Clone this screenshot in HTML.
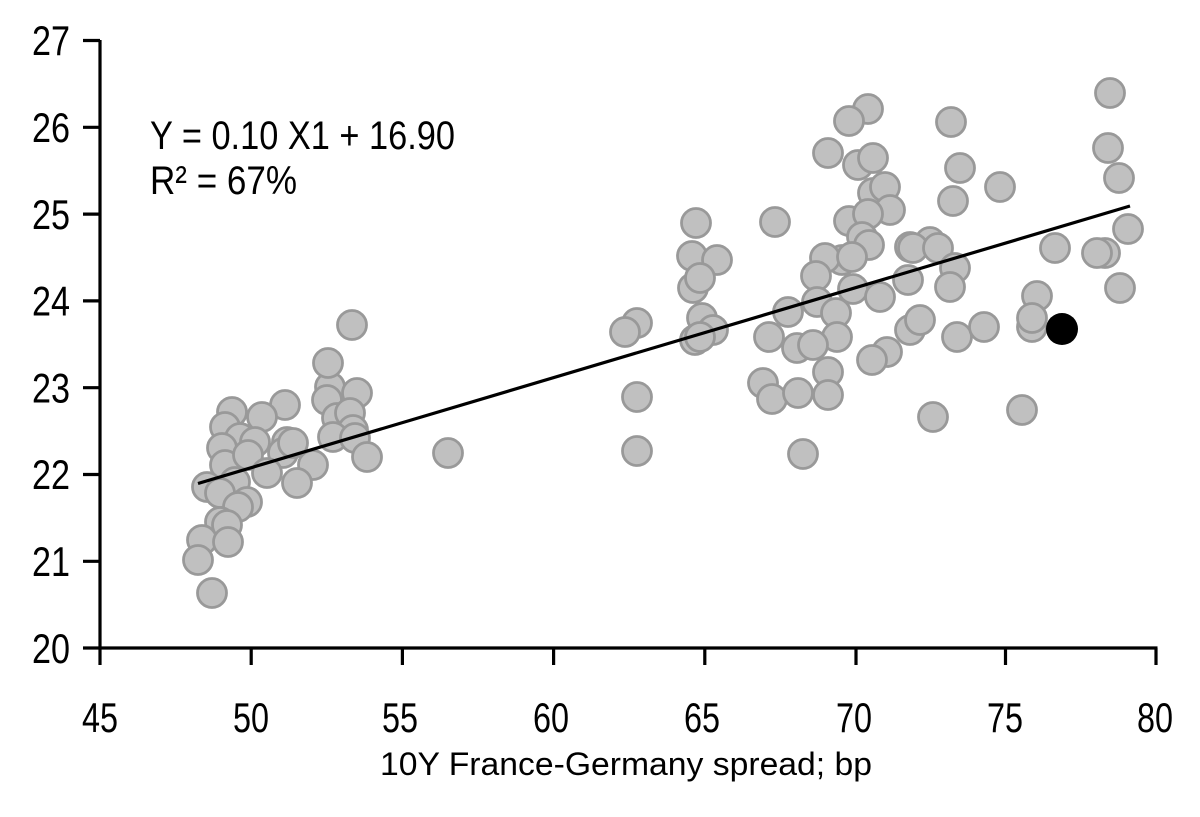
<!DOCTYPE html>
<html>
<head>
<meta charset="utf-8">
<style>
html,body{margin:0;padding:0;background:#fff;}
svg{display:block;}
text{font-family:"Liberation Sans",Arial,sans-serif;fill:#000;}
</style>
</head>
<body>
<svg id="chart" width="1200" height="817" viewBox="0 0 1200 817" xmlns="http://www.w3.org/2000/svg">
<rect width="1200" height="817" fill="#fff"/>
<path d="M100 40V665M98.5 648H1157.5M83 40.5H100M83 127.3H100M83 214.1H100M83 300.9H100M83 387.7H100M83 474.5H100M83 561.3H100M83 648H100M251.2 648V665M402.4 648V665M553.6 648V665M704.8 648V665M856 648V665M1005.5 648V665M1156 648V665" stroke="#000" stroke-width="3.2" fill="none"/>
<g font-size="42" text-anchor="end">
<text x="70" y="55" textLength="38" lengthAdjust="spacingAndGlyphs">27</text>
<text x="70" y="142" textLength="38" lengthAdjust="spacingAndGlyphs">26</text>
<text x="70" y="229" textLength="38" lengthAdjust="spacingAndGlyphs">25</text>
<text x="70" y="315.5" textLength="38" lengthAdjust="spacingAndGlyphs">24</text>
<text x="70" y="402.5" textLength="38" lengthAdjust="spacingAndGlyphs">23</text>
<text x="70" y="489" textLength="38" lengthAdjust="spacingAndGlyphs">22</text>
<text x="70" y="576" textLength="38" lengthAdjust="spacingAndGlyphs">21</text>
<text x="70" y="663" textLength="38" lengthAdjust="spacingAndGlyphs">20</text>
</g>
<g font-size="42">
<text x="82" y="732" textLength="36" lengthAdjust="spacingAndGlyphs">45</text>
<text x="233" y="732" textLength="36" lengthAdjust="spacingAndGlyphs">50</text>
<text x="382" y="732" textLength="36" lengthAdjust="spacingAndGlyphs">55</text>
<text x="533" y="732" textLength="36" lengthAdjust="spacingAndGlyphs">60</text>
<text x="684" y="732" textLength="36" lengthAdjust="spacingAndGlyphs">65</text>
<text x="836" y="732" textLength="36" lengthAdjust="spacingAndGlyphs">70</text>
<text x="987" y="732" textLength="36" lengthAdjust="spacingAndGlyphs">75</text>
<text x="1137" y="732" textLength="36" lengthAdjust="spacingAndGlyphs">80</text>
</g>
<text x="380" y="775" font-size="32" textLength="492" lengthAdjust="spacingAndGlyphs">10Y France-Germany spread; bp</text>
<text x="150" y="149" font-size="40" textLength="305" lengthAdjust="spacingAndGlyphs">Y = 0.10 X1 + 16.90</text>
<text x="150" y="194" font-size="40" textLength="147" lengthAdjust="spacingAndGlyphs">R² = 67%</text>
<g id="pts" fill="#c0c0c0" stroke="#999" stroke-width="2.8"></g>
<circle cx="1062" cy="329" r="16" fill="#000"/>
<line x1="198" y1="483.5" x2="1130" y2="206" stroke="#000" stroke-width="3.2"/>
</svg>
<script>
(function(){
var d=[285,405,232,412,262,417,225,427,240,438,255,442,222,448,287,442,225,465,248,455,283,453,267,473,313,465,297,483,207,487,235,482,220,493,247,502,238,507,220,522,227,525,202,540,228,542,198,560,212,593,293,443,330,387,357,393,352,325,328,363,327,400,337,418,350,413,353,430,333,437,355,438,367,457,448,453,
696,223,692,256,717,260,693,288,700,278,637,323,625,332,702,318,713,330,695,340,700,337,637,397,637,451,
868,109,849,121,828,153,858,165,873,158,873,193,885,187,890,210,849,221,868,214,775,222,862,237,869,245,910,247,842,260,825,258,852,257,816,276,908,280,853,289,880,297,817,302,788,312,836,313,769,337,837,337,797,348,813,345,910,330,887,352,872,360,828,372,763,383,772,399,798,393,828,395,803,454,
951,122,960,168,1000,187,953,201,930,242,913,248,938,248,955,268,950,287,920,320,957,337,984,327,933,417,1022,410,
1110,93,1108,148,1119,178,1128,229,1055,248,1105,253,1097,253,1120,288,1037,296,1032,327,1032,318];
var g=document.getElementById('pts'),ns='http://www.w3.org/2000/svg';
for(var i=0;i<d.length;i+=2){var c=document.createElementNS(ns,'circle');c.setAttribute('cx',d[i]);c.setAttribute('cy',d[i+1]);c.setAttribute('r','14.5');g.appendChild(c);}
})();
</script>
</body>
</html>
